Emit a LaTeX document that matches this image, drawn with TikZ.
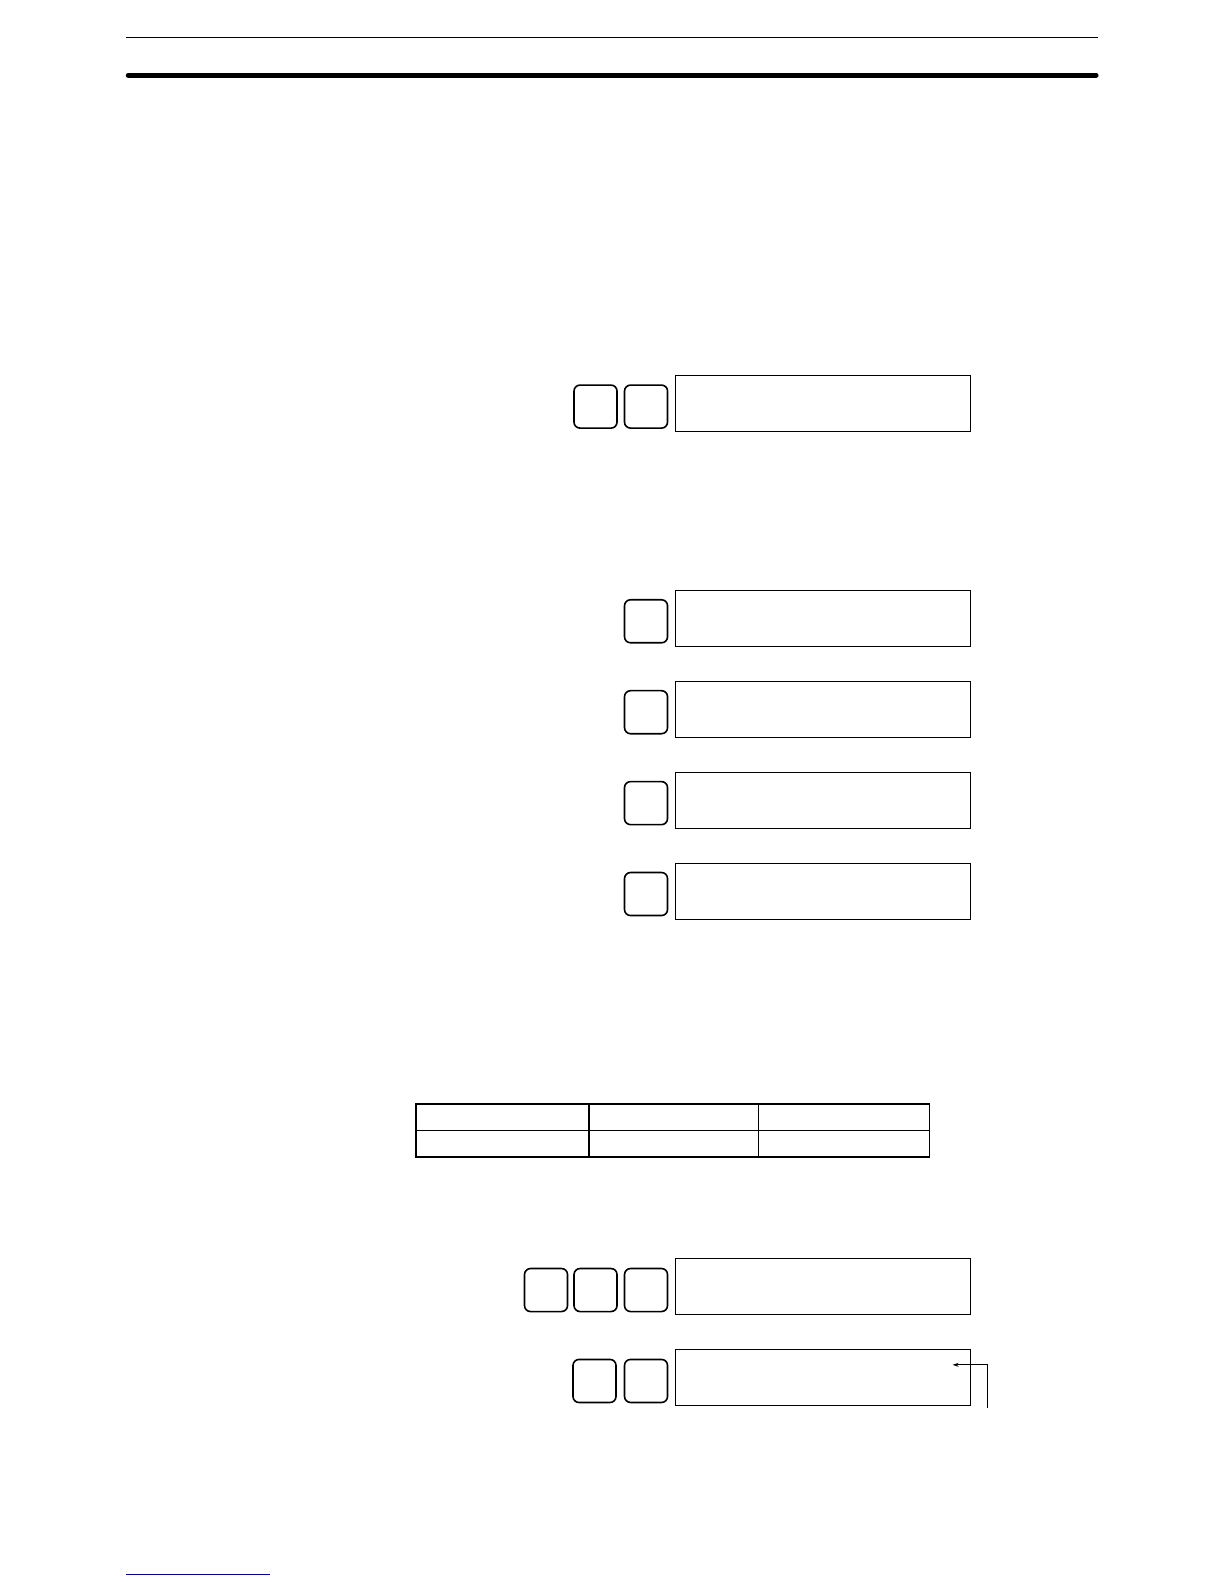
\documentclass[tikz,border=0pt]{standalone}
\usetikzlibrary{arrows.meta}
\begin{document}
\begin{tikzpicture}[x=1.0099pt,y=-1.0099pt,
  keybox/.style={draw,line width=1.6pt,rounded corners=6pt,minimum width=43pt,minimum height=43pt,inner sep=0pt},
  dispbox/.style={draw,line width=1pt,minimum width=295pt,minimum height=56pt,inner sep=0pt},
  rule/.style={line width=1.4pt}]
\useasboundingbox (0,0) rectangle (1212,1568);
\fill[white] (0,0) rectangle (1212,1568);
% header rules
\draw[line width=1.3pt] (125,37) -- (1087,37);
\draw[line width=5pt,line cap=round] (127,74.5) -- (1085,74.5);
% row 1
\node[keybox] (k1a) at (589.5,402.5) {};
\node[keybox] (k1b) at (639.5,402.5) {};
\node[dispbox] (d1) at (814.5,399) {};
% rows 2-5
\node[keybox] (k2) at (639.5,615) {};
\node[dispbox] (d2) at (814.5,612) {};
\node[keybox] (k3) at (639.5,705) {};
\node[dispbox] (d3) at (814.5,702) {};
\node[keybox] (k4) at (639.5,795) {};
\node[dispbox] (d4) at (814.5,792) {};
\node[keybox] (k5) at (639.5,885) {};
\node[dispbox] (d5) at (814.5,882) {};
% table
\draw[line width=1.8pt] (412,1093) rectangle (920,1145);
\draw[line width=1.3pt] (412,1119) -- (920,1119);
\draw[line width=1.3pt] (583,1093) -- (583,1145);
\draw[line width=1.3pt] (751,1093) -- (751,1145);
% row 6
\node[keybox] (k6a) at (540.5,1277) {};
\node[keybox] (k6b) at (589.5,1277) {};
\node[keybox] (k6c) at (639.5,1277) {};
\node[dispbox] (d6) at (814.5,1273.5) {};
% row 7
\node[keybox] (k7a) at (588.5,1367) {};
\node[keybox] (k7b) at (639.5,1367) {};
\node[dispbox] (d7) at (814.5,1363.5) {};
\coordinate (pstart) at (977,1394);
\coordinate (ptip) at (943,1351);
\draw[line width=0.8pt,-{Stealth[length=6pt,width=4pt]}] (pstart) |- (ptip);
% footer link line
\draw[blue!60!black,line width=1pt] (125,1559) -- (267,1559);
\end{tikzpicture}
\end{document}
